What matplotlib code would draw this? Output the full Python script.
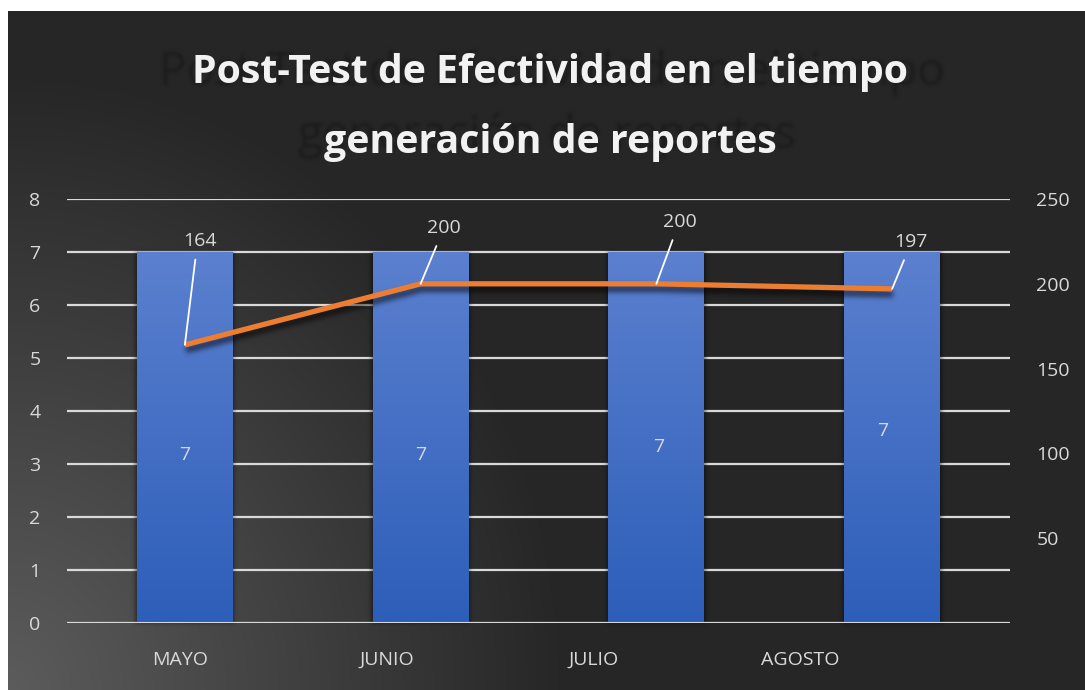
import numpy as np
import matplotlib.pyplot as plt
from matplotlib import transforms

meses = ['MAYO', 'JUNIO', 'JULIO', 'AGOSTO']
efectividad = [7, 7, 7, 7]
tiempo = [164, 200, 200, 197]

titulo = ['Post-Test de Efectividad en el tiempo', 'generación de reportes']

FONT = 'Open Sans'
TXT = '#d9d9d9'
GRID = '#d9d9d9'
NARANJA = '#ed7d31'
AZUL_TOP = np.array([0x5b, 0x80, 0xcf]) / 255
AZUL_BOT = np.array([0x2d, 0x5e, 0xb9]) / 255

plt.rcParams['font.family'] = [FONT, 'DejaVu Sans']


def gaussian_blur(sigma):
    # agg filter: premultiplied gaussian blur for shadows and the ghost title
    def _filter(im, dpi):
        r = int(3 * sigma) + 1
        k = np.exp(-0.5 * (np.arange(-r, r + 1) / sigma) ** 2)
        k /= k.sum()
        im = im.copy()
        im[..., :3] *= im[..., 3:4]
        out = np.pad(im, ((r, r), (r, r), (0, 0)))
        for axis in (0, 1):
            acc = np.zeros_like(out)
            for i, w in enumerate(k):
                acc += w * np.roll(out, i - r, axis=axis)
            out = acc
        a = out[..., 3:4]
        out[..., :3] = np.where(a > 1e-6, out[..., :3] / np.maximum(a, 1e-6), 0)
        return out, -r, -r
    return _filter


W, H = 1085, 690
fig = plt.figure(figsize=(W / 100, H / 100), dpi=100, facecolor='white')

# dark background, lighter toward the lower left corner
bw, bh = 1077, 679
bg = fig.add_axes([8 / W, 0, bw / W, bh / H])
bg.axis('off')
yy, xx = np.mgrid[0:bh, 0:bw]
yb = bh - 1 - yy
d = np.hypot(xx / 560, yb / 620)
v = (38 + 54 * np.clip(1 - d, 0, 1)) / 255
bg.imshow(np.dstack([v, v, v]), aspect='auto', interpolation='bilinear')

# title with a blurred, wider ghost copy behind it
for txt, yline, cx in zip(titulo, [85, 148], [551.5, 547]):
    t = fig.text(cx / W, 1 - yline / H, txt, ha='center', va='baseline',
                 fontsize=33, color='#1c1c1c')
    t.set_agg_filter(gaussian_blur(1.6))
for txt, yline in zip(titulo, [83, 153]):
    fig.text(550 / W, 1 - yline / H, txt, ha='center', va='baseline',
             fontsize=28.3, fontweight='bold', color='#f2f2f2')

ax = fig.add_axes([67 / W, 1 - 623 / H, (1010 - 67) / W, (623 - 199) / H])
ax.patch.set_alpha(0)
x = np.arange(len(meses))

# bar shadows, then gradient-filled bars
sh = ax.bar(x, efectividad, width=0.42, color='black', alpha=0.45, zorder=1.5)
for p in sh:
    p.set_agg_filter(gaussian_blur(2.0))
bars = ax.bar(x, efectividad, width=0.407, color='none', zorder=2)
grad = np.linspace(0, 1, 256)[:, None]
grad_img = AZUL_TOP[None, None, :] * (1 - grad[..., None]) + AZUL_BOT[None, None, :] * grad[..., None]
for b in bars:
    ax.imshow(grad_img, extent=[b.get_x(), b.get_x() + b.get_width(), 0, b.get_height()],
              aspect='auto', zorder=2, interpolation='bilinear')

ax.set_xlim(-0.5, len(meses) - 0.5)
ax.set_ylim(0, 8)
ax.set_yticks(range(9))
ax.yaxis.grid(True, color=GRID, lw=1.6)
ax.set_axisbelow(True)
ax.axhline(0, color=GRID, lw=2.2, zorder=3)
for s in ax.spines.values():
    s.set_visible(False)

pos_etiquetas = x * 0.877 - 0.02
ax.set_xticks(pos_etiquetas)
ax.set_xticklabels(meses)
ax.tick_params(axis='both', length=0, labelcolor=TXT, labelsize=14)
ax.tick_params(axis='y', pad=19)
ax.tick_params(axis='x', pad=20)

# bar value labels
bar_off = [(0, -17), (0, -17), (2, -9), (-9, 6)]
for b, val, (ox, oy) in zip(bars, efectividad, bar_off):
    ax.annotate(f'{val}', xy=(b.get_x() + b.get_width() / 2, b.get_height() / 2),
                xytext=(ox, oy), textcoords='offset pixels', ha='center', va='center',
                color=TXT, fontsize=14, zorder=4)

ax2 = ax.twinx()
ax2.set_ylim(0, 250)
ax2.set_yticks([50, 100, 150, 200, 250])
ax2.tick_params(axis='y', length=0, labelcolor=TXT, labelsize=14, pad=19)
for s in ax2.spines.values():
    s.set_visible(False)

shadow_tr = transforms.offset_copy(ax2.transData, fig=fig, x=1, y=-5, units='dots')
shl, = ax2.plot(x, tiempo, color='black', lw=5, alpha=0.55, transform=shadow_tr,
                solid_capstyle='butt', zorder=4)
shl.set_agg_filter(gaussian_blur(2.5))
ax2.plot(x, tiempo, color=NARANJA, lw=3.8, solid_capstyle='butt',
         solid_joinstyle='miter', zorder=5)

# line labels with leader lines
lbl_off = [(15, 104), (23, 56), (23, 62), (19, 47)]
for xi, val, (ox, oy) in zip(x, tiempo, lbl_off):
    ax2.annotate(f'{val}', xy=(xi, val), xytext=(ox, oy), textcoords='offset pixels',
                 ha='center', va='center', color=TXT, fontsize=14, zorder=6,
                 arrowprops=dict(arrowstyle='-', color='white', lw=1.3,
                                 shrinkA=5, shrinkB=0, relpos=(0.4, 0)))

fig.savefig('out.png', dpi=100, facecolor='white')
